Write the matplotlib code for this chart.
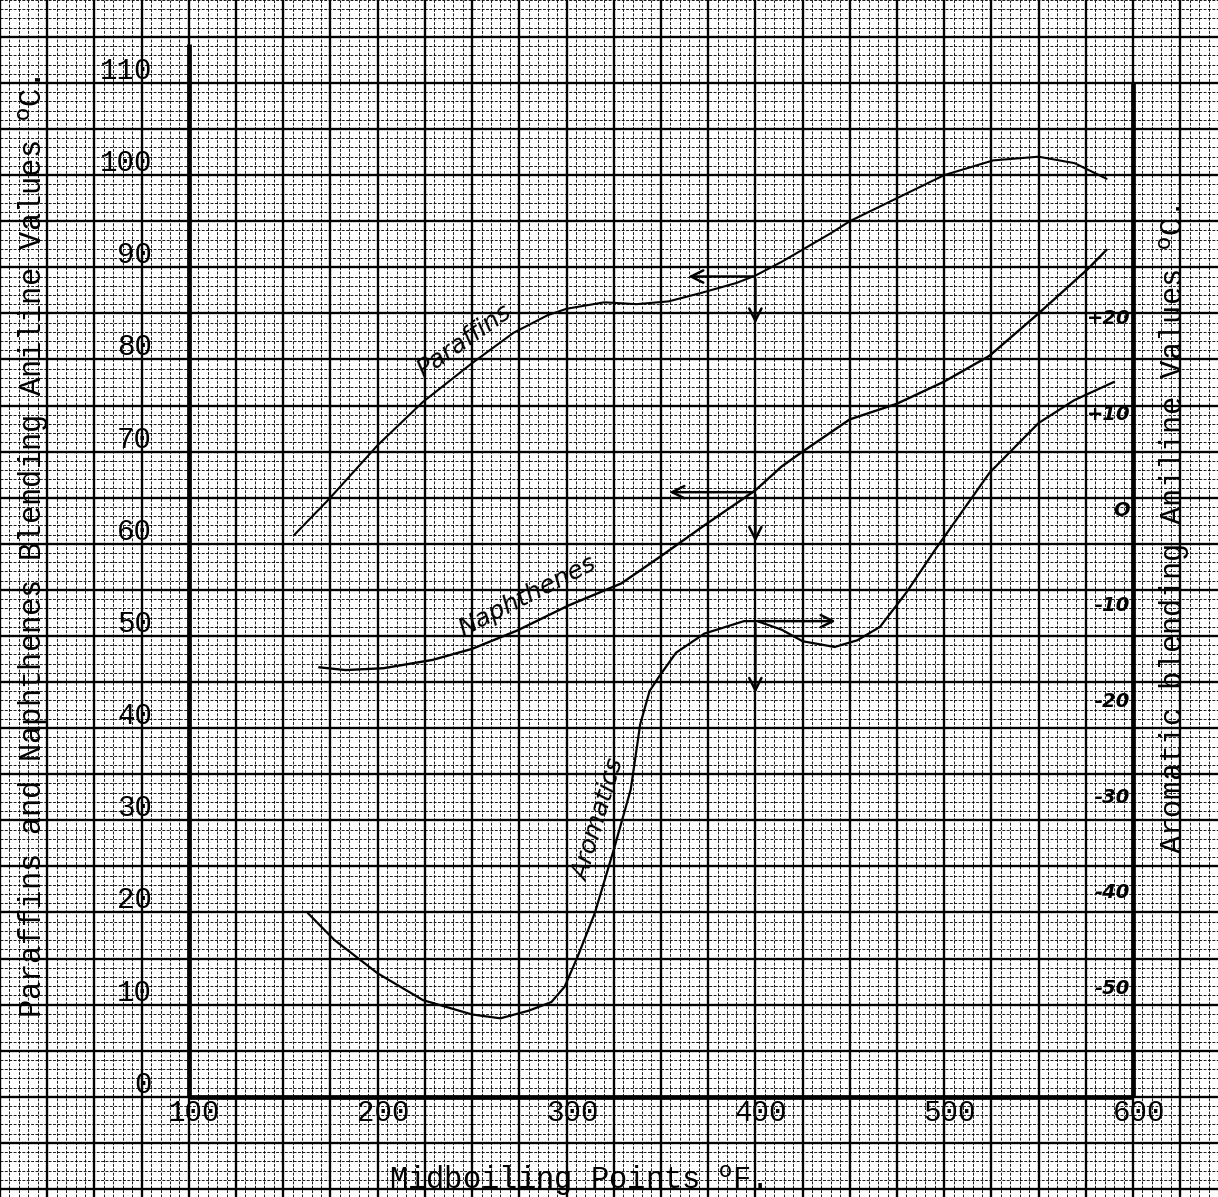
import matplotlib.pyplot as plt
import numpy as np

# ---------------- data ----------------
# midboiling point, deg F  /  blending aniline value, deg C
par_f = [156, 174, 200, 224, 250, 272, 290, 300, 320, 337, 354, 371, 390, 400,
         414, 440, 450, 473, 500, 526, 550, 569, 586]
par_v = [61.0, 64.8, 70.7, 75.4, 79.6, 82.9, 84.8, 85.5, 86.2, 86.0, 86.3, 87.2,
         88.3, 89.1, 90.6, 93.7, 95.0, 97.3, 100.0, 101.6, 102.0, 101.3, 99.6]

nap_f = [169, 183, 203, 229, 250, 274, 301, 329, 351, 373, 400, 414, 425, 450,
         475, 500, 524, 550, 576, 586]
nap_v = [46.6, 46.3, 46.5, 47.4, 48.6, 50.6, 53.3, 55.7, 58.8, 62.0, 65.8, 68.4,
         70.0, 73.5, 75.2, 77.6, 80.4, 85.0, 89.8, 91.9]

# aromatics are read on the right hand scale
aro_f = [163, 177, 200, 224, 250, 265, 280, 292, 299, 306, 315, 325, 334, 339,
         344, 349, 358, 373, 394, 401, 414, 425, 442, 454, 466, 480, 495, 524,
         550, 569, 590]
aro_v = [-41.2, -44.0, -47.5, -50.3, -51.8, -52.2, -51.4, -50.5, -48.9, -45.7,
         -41.2, -34.6, -28.3, -21.5, -18.0, -16.5, -14.0, -12.0, -10.7, -10.7,
         -11.6, -12.8, -13.4, -12.7, -11.3, -7.7, -3.3, 4.8, 10.0, 12.4, 14.3]

x_ticks = [100, 200, 300, 400, 500, 600]
left_ticks = [0, 10, 20, 30, 40, 50, 60, 70, 80, 90, 100, 110]
right_ticks = [20, 10, 0, -10, -20, -30, -40, -50]
right_labels = ['+20', '+10', 'O', '-10', '-20', '-30', '-40', '-50']
shift = 60   # right scale = left scale - 60

############################
# figure / graph paper
############################
fig = plt.figure(figsize=(12.18, 11.97), dpi=100)
ax = fig.add_axes([0, 0, 1, 1])
xlo, xhi = 2.06, 629.9
ylo, yhi = -10.87, 114.2
ax.set_xlim(xlo, xhi)
ax.set_ylim(ylo, yhi)

ax.set_xticks(np.arange(0, 650, 25))
ax.set_xticks(np.arange(0, 650, 5), minor=True)
ax.set_yticks(np.arange(-10, 120, 5))
ax.set_yticks(np.arange(-10, 120, 1), minor=True)
ax.grid(which='major', color='black', lw=1.7)
ax.grid(which='minor', color='black', lw=0.7, ls=(0, (3, 1.5)), alpha=0.9)
ax.tick_params(which='both', length=0, labelbottom=False, labelleft=False)
for s in ax.spines.values():
    s.set_visible(False)
ax.set_axisbelow(True)

# heavy axis lines
ax.vlines(100, 0, yhi, color='black', lw=3.4)
ax.vlines(600, 0, 110, color='black', lw=3.4)
ax.hlines(0, 100, 600, color='black', lw=3.4)

mono = 'Liberation Mono'
for t in x_ticks:
    ax.text(t + 3, -1.8, str(t), family=mono, fontsize=21, ha='center', va='center')
for t in left_ticks:
    ax.text(80.5, t + 1.3, str(t), family=mono, fontsize=21, ha='right', va='center')

ax.text(18.0, 59.7, 'Paraffins and Naphthenes Blending Aniline Values $^{\\mathrm{o}}$C.',
        family=mono, fontsize=22, rotation=90, ha='center', va='center')
ax.text(305, -9.1, 'Midboiling Points $^{\\mathrm{o}}$F.', family=mono, fontsize=22,
        ha='center', va='center')
ax.text(622.2, 61.6, 'Aromatic blending Aniline Values $^{\\mathrm{o}}$C.',
        family=mono, fontsize=22, rotation=90, ha='center', va='center')

############################
# curves
############################
line = dict(color='black', solid_joinstyle='round', solid_capstyle='round')
ax.plot(par_f, par_v, lw=1.5, **line)
ax.plot(nap_f, nap_v, lw=1.7, **line)

ax2 = ax.twinx()
ax2.set_ylim(ylo - shift, yhi - shift)
ax2.set_axis_off()
ax2.plot(aro_f, aro_v, lw=1.6, **line)
for t, lab in zip(right_ticks, right_labels):
    ax2.text(598.5, t + 0.9, lab, fontsize=14, style='italic', weight='bold',
             ha='right', va='center')

# reading arrows
arr = dict(arrowstyle='->', color='black', lw=1.8, mutation_scale=22)
ax.annotate('', xy=(363, 89.0), xytext=(400, 89.0), arrowprops=arr)
ax.annotate('', xy=(400, 83.6), xytext=(400, 89.0), arrowprops=arr)
ax.annotate('', xy=(353, 65.6), xytext=(400, 65.6), arrowprops=arr)
ax.annotate('', xy=(400, 59.9), xytext=(400, 65.6), arrowprops=arr)
ax2.annotate('', xy=(444, -10.7), xytext=(400, -10.7), arrowprops=arr)
ax2.annotate('', xy=(400, -18.5), xytext=(400, -10.7), arrowprops=arr)

# hand written curve names
hand = dict(style='italic', fontsize=18, ha='center', va='center', family='DejaVu Sans')
ax.text(246, 82.0, 'Paraffins', rotation=35, **hand)
ax.text(279, 54.3, 'Naphthenes', rotation=27, **hand)
ax2.text(317, 28.5 - shift, 'Aromatics', rotation=73, **hand)

plt.savefig('out.png', dpi=100)
